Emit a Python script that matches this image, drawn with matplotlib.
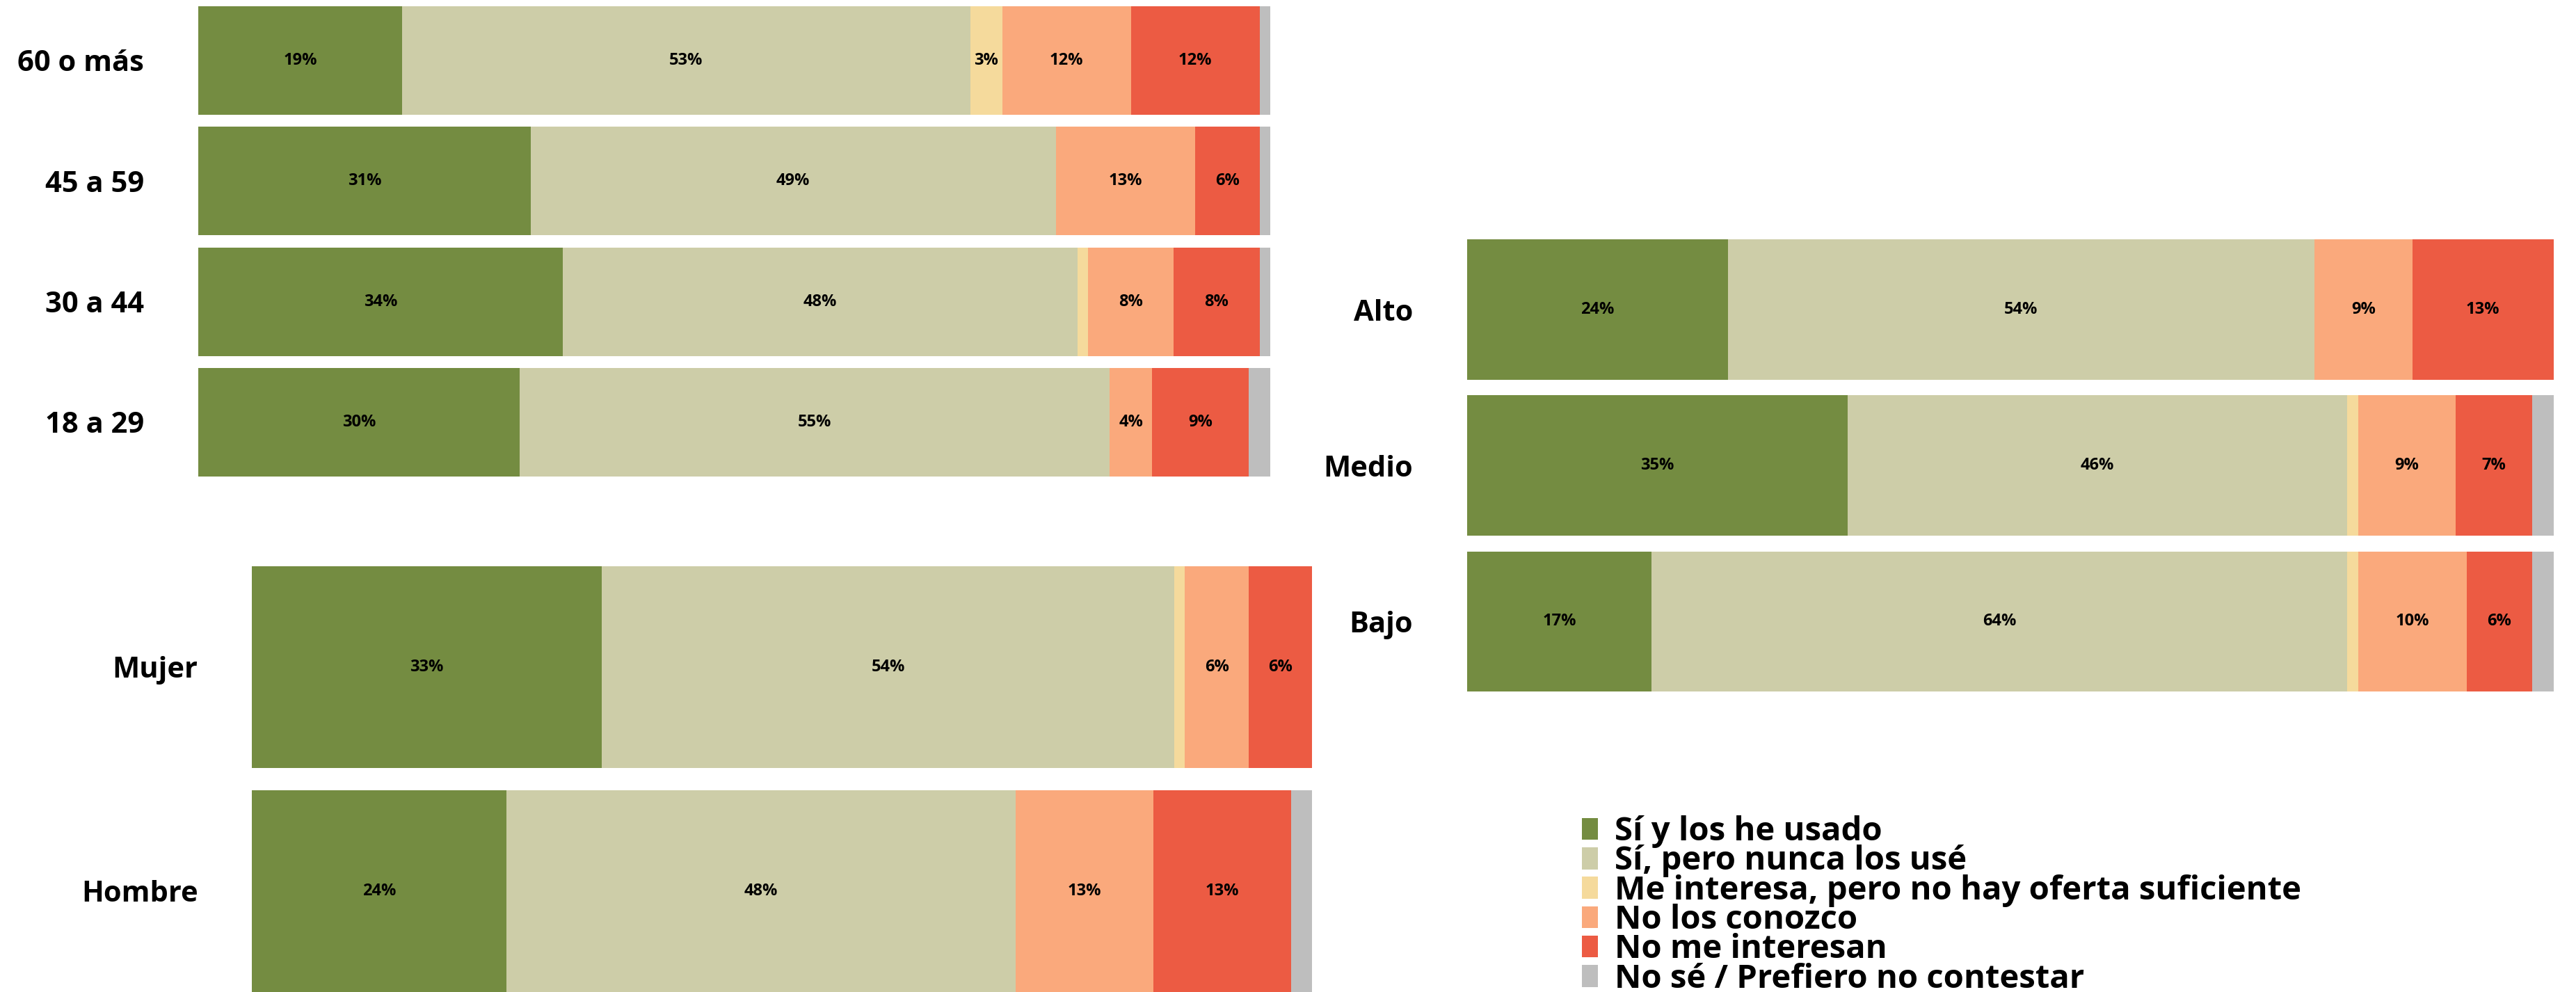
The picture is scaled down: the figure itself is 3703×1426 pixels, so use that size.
import numpy as np
import matplotlib
matplotlib.use('Agg')
import matplotlib.pyplot as plt
from matplotlib.patches import Patch

plt.rcParams['font.family'] = ['Open Sans', 'DejaVu Sans']
plt.rcParams['font.weight'] = 'bold'

respuestas = ['Sí y los he usado', 'Sí, pero nunca los usé',
              'Me interesa, pero no hay oferta suficiente', 'No los conozco',
              'No me interesan', 'No sé / Prefiero no contestar']
colores = ['#748C41', '#CDCDA8', '#F5DA9C', '#FAA97C', '#EC5B43', '#BEBEBE']

# edad (de arriba a abajo)
edades = ['60 o más', '45 a 59', '30 a 44', '18 a 29']
edad_vals = [
    [19, 53, 3, 12, 12, 1],
    [31, 49, 0, 13, 6, 1],
    [34, 48, 1, 8, 8, 1],
    [30, 55, 0, 4, 9, 2],
]

# sexo
sexos = ['Mujer', 'Hombre']
sexo_vals = [
    [33, 54, 1, 6, 6, 0],
    [24, 48, 0, 13, 13, 2],
]

# nivel socioeconomico
niveles = ['Alto', 'Medio', 'Bajo']
nivel_vals = [
    [24, 54, 0, 9, 13, 0],
    [35, 46, 1, 9, 7, 2],
    [17, 64, 1, 10, 6, 2],
]


def barras(ax, cats, vals):
    vals = np.array(vals, dtype=float)
    y = np.arange(len(cats))
    izq = np.zeros(len(cats))
    for j in range(vals.shape[1]):
        ax.barh(y, vals[:, j], left=izq, height=0.9, color=colores[j], linewidth=0)
        for i, v in enumerate(vals[:, j]):
            if v >= 2.5:
                ax.text(izq[i] + v / 2, y[i], f'{v:.0f}%', ha='center', va='center',
                        fontsize=17, fontweight='bold', color='black')
        izq += vals[:, j]
    ax.set_xlim(0, izq.max())
    ax.set_ylim(len(cats) - 0.5, -0.5)
    ax.set_yticks(y)
    ax.set_yticklabels(cats, fontsize=30, fontweight='bold')
    ax.tick_params(axis='y', length=0, pad=56)
    ax.set_xticks([])
    for s in ax.spines.values():
        s.set_visible(False)


fig = plt.figure(figsize=(37.03, 14.26), dpi=100)

ax1 = fig.add_axes([0.0770, 0.5136, 0.4161, 0.4862])
barras(ax1, edades, edad_vals)

ax2 = fig.add_axes([0.0978, -0.0112, 0.4116, 0.4516])
barras(ax2, sexos, sexo_vals)

ax3 = fig.add_axes([0.5695, 0.2950, 0.4218, 0.4713])
barras(ax3, niveles, nivel_vals)

handles = [Patch(facecolor=c, edgecolor='none') for c in colores]
fig.legend(handles, respuestas, loc='upper left', bbox_to_anchor=(0.614, 0.178),
           frameon=False, handlelength=0.5, handleheight=0.65,
           handletextpad=0.5, labelspacing=-0.10, borderaxespad=0, borderpad=0,
           prop={'weight': 'bold', 'size': 34})

plt.savefig('out.png', dpi=100)
